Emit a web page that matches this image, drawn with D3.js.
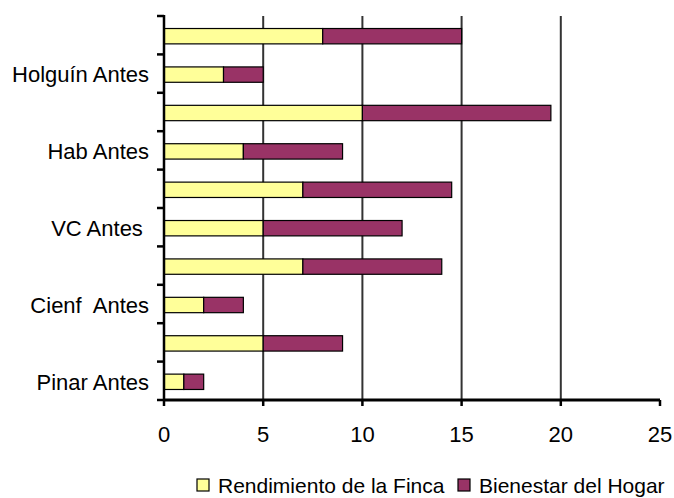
<!DOCTYPE html>
<html>
<head>
<meta charset="utf-8">
<script src="https://cdn.jsdelivr.net/npm/d3@7"></script>
<style>
  body { margin: 0; background: #fff; }
  text { font-family: "Liberation Sans", Arial, sans-serif; fill: #000; }
</style>
</head>
<body>
<svg id="chart" width="674" height="498"></svg>
<script>
// categories, top to bottom
var categories = ["c10", "Holguín Antes", "c8", "Hab Antes", "c6", "VC Antes", "c4", "Cienf  Antes", "c2", "Pinar Antes"];
var labels = ["", "Holguín Antes", "", "Hab Antes", "", "VC Antes ", "", "Cienf  Antes", "", "Pinar Antes"];
var rendimiento = [8, 3, 10, 4, 7, 5, 7, 2, 5, 1];
var bienestar = [7, 2, 9.5, 5, 7.5, 7, 7, 2, 4, 1];
var xTicks = [0, 5, 10, 15, 20, 25];
var seriesNames = ["Rendimiento de la Finca", "Bienestar del Hogar"];
var colors = ["#FFFF99", "#993366"];

var svg = d3.select("#chart");
// plot area edges (pixels)
var pLeft = 164, pRight = 660, pTop = 16, pBottom = 400;

var x = d3.scaleLinear().domain([0, 25]).range([pLeft, pRight]);
var y = d3.scaleBand().domain(categories).range([pTop, pBottom]).paddingInner(0.6).paddingOuter(0.3);
var yStep = (pBottom - pTop) / categories.length;

// vertical gridlines
svg.selectAll("line.grid")
    .data(xTicks.filter(function (d) { return d > 0 && d < 25; }))
    .enter()
    .append("line")
    .attr("class", "grid")
    .attr("x1", function (d) { return x(d); })
    .attr("x2", function (d) { return x(d); })
    .attr("y1", pTop)
    .attr("y2", pBottom)
    .attr("stroke", "#333")
    .attr("stroke-width", 2);

// stacked data
var rows = categories.map(function (c, i) {
    return { cat: c, v: [rendimiento[i], bienestar[i]] };
});

rows.forEach(function (r) {
    var x0 = 0;
    r.v.forEach(function (v, k) {
        svg.append("rect")
            .attr("x", x(x0))
            .attr("y", y(r.cat) + 1)
            .attr("width", x(x0 + v) - x(x0))
            .attr("height", y.bandwidth())
            .attr("fill", colors[k])
            .attr("stroke", "#000")
            .attr("stroke-width", 1.2);
        x0 += v;
    });
});

// y axis
svg.append("line")
    .attr("x1", pLeft).attr("x2", pLeft)
    .attr("y1", pTop - 1).attr("y2", pBottom)
    .attr("stroke", "#000").attr("stroke-width", 2.5);

svg.selectAll("line.ytick")
    .data(d3.range(categories.length + 1))
    .enter()
    .append("line")
    .attr("x1", pLeft - 7).attr("x2", pLeft)
    .attr("y1", function (d) { return pTop + d * yStep; })
    .attr("y2", function (d) { return pTop + d * yStep; })
    .attr("stroke", "#000").attr("stroke-width", 2.5);

svg.selectAll("text.ylab")
    .data(categories)
    .enter()
    .append("text")
    .attr("x", 149)
    .attr("y", function (d) { return y(d) + y.bandwidth() / 2 + 1; })
    .attr("dy", "0.35em")
    .attr("text-anchor", "end")
    .attr("font-size", "22px")
    .style("white-space", "pre")
    .text(function (d, i) { return labels[i]; });

// x axis
svg.append("line")
    .attr("x1", pLeft).attr("x2", pRight)
    .attr("y1", pBottom).attr("y2", pBottom)
    .attr("stroke", "#000").attr("stroke-width", 3);

svg.selectAll("line.xtick")
    .data(xTicks)
    .enter()
    .append("line")
    .attr("x1", function (d) { return x(d); })
    .attr("x2", function (d) { return x(d); })
    .attr("y1", pBottom).attr("y2", pBottom + 6)
    .attr("stroke", "#000").attr("stroke-width", 2.5);

svg.selectAll("text.xlab")
    .data(xTicks)
    .enter()
    .append("text")
    .attr("x", function (d) { return x(d); })
    .attr("y", 442)
    .attr("text-anchor", "middle")
    .attr("font-size", "22px")
    .text(function (d) { return d; });

// legend
var legendX = [197, 458];
seriesNames.forEach(function (name, k) {
    svg.append("rect")
        .attr("x", legendX[k]).attr("y", 479)
        .attr("width", 12).attr("height", 12)
        .attr("fill", colors[k])
        .attr("stroke", "#000").attr("stroke-width", 1.2);
    svg.append("text")
        .attr("x", legendX[k] + 21).attr("y", 493)
        .attr("font-size", "21px")
        .text(name);
});
</script>
</body>
</html>
